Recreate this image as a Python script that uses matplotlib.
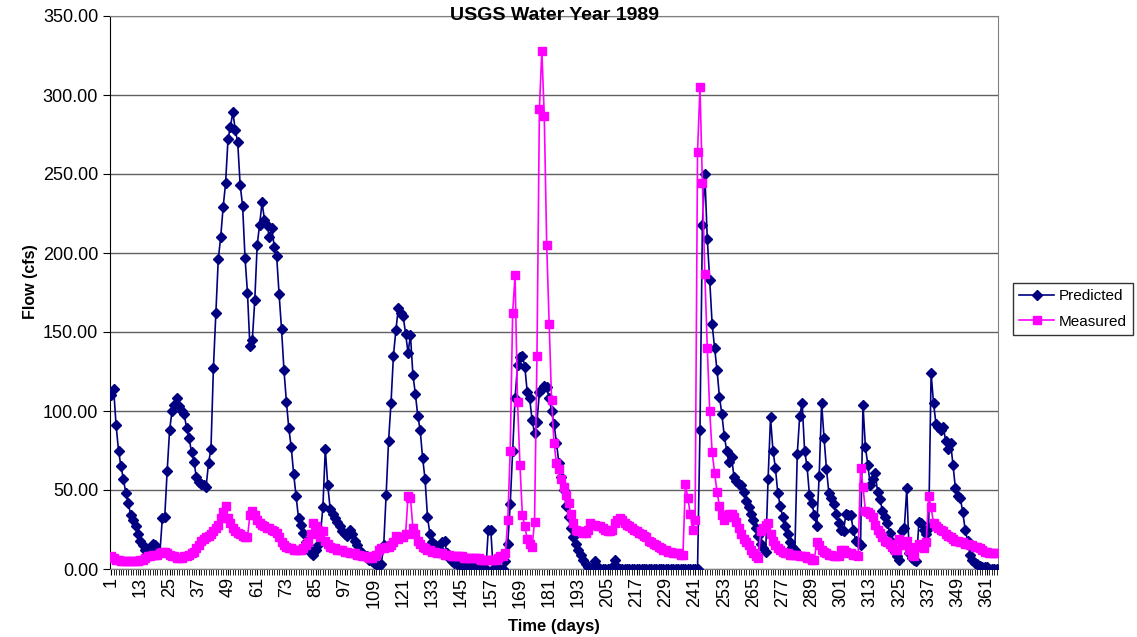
import numpy as np
import matplotlib
matplotlib.use("Agg")
import matplotlib.pyplot as plt
from matplotlib.ticker import FormatStrFormatter

plt.rcParams["font.family"] = ["Liberation Sans", "DejaVu Sans"]

# daily flow (cfs), water year 1989
predicted = [
    110, 114, 91, 75, 65, 57, 48, 42, 34, 31,
    27, 22, 18, 15, 12, 11, 13, 16, 15, 12,
    10, 32, 33, 62, 88, 100, 104, 108, 103, 100,
    98, 89, 83, 74, 68, 58, 55, 54, 53, 52,
    67, 76, 127, 162, 196, 210, 229, 244, 272, 280,
    289, 278, 270, 243, 230, 197, 175, 141, 145, 170,
    205, 218, 232, 221, 218, 210, 216, 204, 198, 174,
    152, 126, 106, 89, 77, 60, 46, 32, 28, 23,
    17, 14, 10, 9, 12, 15, 22, 39, 76, 53,
    38, 35, 32, 30, 27, 24, 22, 21, 25, 22,
    18, 15, 12, 10, 9, 8, 6, 5, 4, 3,
    2, 3, 15, 47, 81, 105, 135, 151, 165, 162,
    160, 149, 137, 148, 123, 111, 97, 88, 70, 57,
    33, 22, 17, 15, 13, 12, 17, 18, 10, 7,
    5, 4, 3, 3, 2, 2, 1, 1, 1, 1,
    0, 0, 0, 0, 0, 25, 25, 0, 0, 0,
    0, 0, 5, 16, 41, 75, 108, 129, 134, 135,
    128, 112, 108, 94, 86, 93, 112, 114, 116, 115,
    108, 100, 92, 80, 67, 58, 50, 40, 33, 26,
    20, 16, 12, 9, 6, 3, 1, 0, 1, 5,
    1, 0, 0, 0, 0, 0, 1, 6, 1, 0,
    0, 0, 0, 0, 0, 0, 0, 0, 0, 0,
    0, 0, 0, 0, 0, 0, 0, 0, 0, 0,
    0, 0, 0, 0, 0, 0, 0, 0, 0, 0,
    0, 0, 88, 218, 250, 209, 183, 155, 140, 126,
    109, 98, 84, 75, 68, 71, 58, 56, 54, 53,
    49, 43, 39, 35, 31, 26, 21, 16, 13, 11,
    57, 96, 75, 64, 48, 40, 33, 27, 22, 17,
    14, 12, 73, 97, 105, 75, 65, 47, 42, 34,
    27, 59, 105, 83, 63, 48, 45, 41, 35, 29,
    25, 24, 35, 34, 34, 25, 18, 17, 15, 104,
    77, 66, 53, 57, 61, 49, 44, 37, 33, 29,
    23, 17, 11, 8, 6, 24, 26, 51, 10, 7,
    6, 5, 30, 29, 25, 22, 26, 124, 105, 92,
    90, 88, 90, 81, 76, 80, 66, 51, 46, 45,
    36, 25, 18, 9, 6, 4, 3, 2, 1, 1,
    1, 0, 0, 0, 0,
]

measured = [
    8, 7, 6, 6, 5, 5, 5, 5, 5, 5,
    5, 5, 6, 6, 7, 8, 8, 9, 9, 9,
    10, 11, 11, 10, 9, 8, 8, 7, 7, 7,
    8, 8, 9, 10, 11, 13, 15, 18, 19, 20,
    21, 22, 24, 26, 28, 32, 36, 40, 32, 29,
    26, 24, 23, 22, 21, 20, 20, 34, 37, 34,
    31, 29, 28, 27, 26, 26, 25, 24, 23, 20,
    17, 15, 14, 13, 13, 12, 12, 12, 12, 13,
    15, 17, 22, 29, 27, 25, 20, 24, 18, 16,
    14, 13, 13, 12, 12, 12, 11, 11, 10, 10,
    10, 9, 9, 8, 8, 8, 7, 7, 8, 9,
    12, 13, 13, 14, 14, 15, 17, 21, 19, 20,
    20, 22, 46, 45, 26, 22, 18, 16, 14, 13,
    12, 12, 11, 11, 10, 10, 10, 9, 9, 9,
    8, 8, 8, 8, 8, 7, 7, 7, 7, 7,
    7, 7, 6, 6, 6, 6, 6, 6, 6, 7,
    8, 8, 10, 31, 75, 162, 186, 106, 66, 34,
    27, 19, 16, 14, 30, 135, 291, 328, 287, 205,
    155, 107, 80, 67, 63, 57, 52, 47, 42, 35,
    29, 25, 24, 24, 23, 23, 25, 29, 28, 28,
    27, 27, 26, 25, 24, 24, 25, 29, 31, 32,
    31, 29, 28, 27, 26, 25, 24, 23, 22, 21,
    20, 18, 17, 16, 15, 14, 13, 12, 12, 11,
    11, 10, 10, 10, 9, 9, 54, 45, 35, 25,
    31, 264, 305, 244, 187, 140, 100, 74, 61, 49,
    40, 34, 31, 33, 35, 35, 33, 30, 26, 22,
    19, 17, 15, 12, 10, 8, 7, 24, 26, 28,
    29, 22, 18, 15, 13, 12, 11, 10, 10, 9,
    9, 9, 9, 8, 8, 8, 7, 7, 6, 6,
    17, 15, 12, 11, 10, 9, 9, 8, 8, 8,
    12, 12, 11, 10, 10, 9, 9, 8, 64, 52,
    37, 36, 35, 33, 28, 25, 23, 20, 18, 17,
    16, 14, 12, 12, 19, 16, 15, 18, 12, 9,
    8, 14, 16, 15, 13, 17, 46, 39, 29, 27,
    26, 25, 24, 22, 21, 20, 19, 18, 18, 17,
    17, 16, 16, 15, 15, 14, 14, 13, 12, 11,
    11, 10, 10, 10, 10,
]

days = np.arange(1, len(predicted) + 1)
label_days = list(range(1, 366, 12))

fig = plt.figure(figsize=(11.37, 6.37), dpi=100)
ax = fig.add_axes([110 / 1137, 1 - 569 / 637, 888 / 1137, 553 / 637])

ax.plot(days, predicted, color="#000080", lw=1.2, marker="D", markersize=5.5,
        label="Predicted", zorder=3)
ax.plot(days, measured, color="#FF00FF", lw=1.2, marker="s", markersize=5.5,
        label="Measured", zorder=4)

ax.set_xlim(0.5, len(days) + 0.5)
ax.set_ylim(0, 350)
ax.set_yticks(np.arange(0, 351, 50))
ax.yaxis.set_major_formatter(FormatStrFormatter("%.2f"))
ax.set_xticks(label_days)
ax.set_xticklabels([str(d) for d in label_days], rotation=90)
ax.set_xticks(days, minor=True)
ax.tick_params(axis="x", which="both", length=4, direction="out", labelsize=13, pad=2)
ax.tick_params(axis="y", length=5, direction="out", labelsize=13)

ax.grid(axis="y", color="#606060", lw=1)
ax.set_axisbelow(True)
for side in ["top", "right", "bottom"]:
    ax.spines[side].set_color("#808080")
ax.spines["left"].set_color("black")

fig.text(554 / 1137, 1 - 15 / 637, "USGS Water Year 1989", fontsize=14,
         fontweight="bold", ha="center", va="center")
fig.text(30 / 1137, 1 - 282 / 637, "Flow (cfs)", fontsize=11.5,
         fontweight="bold", ha="center", va="center", rotation=90)
ax.set_xlabel("Time (days)", fontsize=12, fontweight="bold", labelpad=8)

fig.legend(loc="upper left", bbox_to_anchor=(1013 / 1137, 1 - 283 / 637),
           fontsize=11, frameon=True, fancybox=False, edgecolor="black",
           borderpad=0.4, handlelength=2.3, handletextpad=0.3,
           labelspacing=0.75, borderaxespad=0)

fig.savefig("out.png", dpi=100)
